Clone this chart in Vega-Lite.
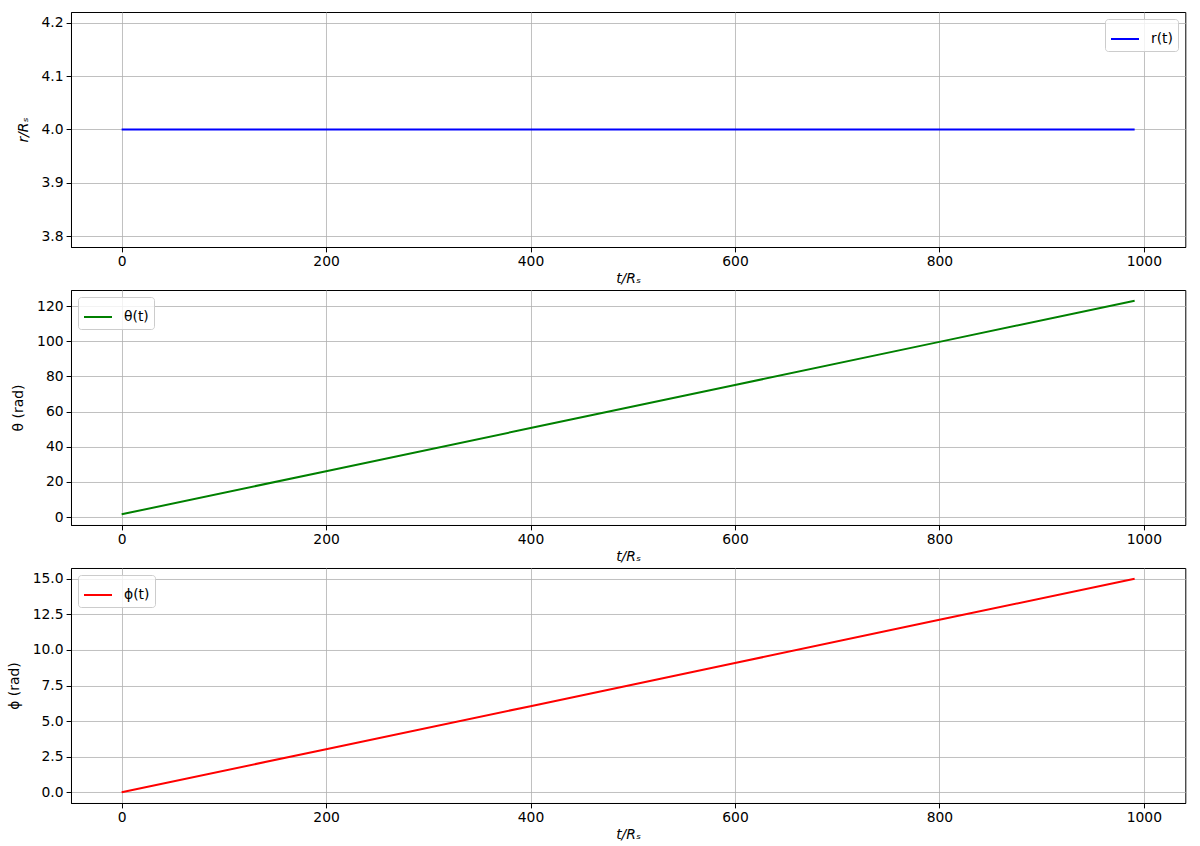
{
  "$schema": "https://vega.github.io/schema/vega-lite/v6.json",
  "padding": {"left": 6, "top": 11, "right": 5, "bottom": 5},
  "background": "white",
  "datasets": {
    "traj": [
      {"t": 0, "r": 4.0, "theta": 1.57, "phi": 0.0},
      {"t": 200, "r": 4.0, "theta": 26.1, "phi": 3.03},
      {"t": 400, "r": 4.0, "theta": 50.6, "phi": 6.05},
      {"t": 600, "r": 4.0, "theta": 75.1, "phi": 9.08},
      {"t": 800, "r": 4.0, "theta": 99.6, "phi": 12.11},
      {"t": 991, "r": 4.0, "theta": 123.0, "phi": 15.0}
    ]
  },
  "bounds": "flush",
  "spacing": 43,
  "resolve": {"scale": {"color": "independent"}, "legend": {"color": "independent"}},
  "vconcat": [
    {
      "width": 1114.3,
      "height": 235,
      "data": {"name": "traj"},
      "mark": {"type": "line", "strokeWidth": 2, "clip": true},
      "encoding": {
        "x": {"field": "t", "type": "quantitative", "scale": {"domain": [-49.55, 1040.55], "nice": false, "zero": false},
              "axis": {"values": [0, 200, 400, 600, 800, 1000], "format": "d", "title": "t/Rₛ", "titleFontStyle": "italic"}},
        "y": {"field": "r", "type": "quantitative", "scale": {"domain": [3.78, 4.22], "nice": false, "zero": false},
              "axis": {"values": [3.8, 3.9, 4.0, 4.1, 4.2], "format": ".1f", "title": "r/Rₛ", "titleFontStyle": "italic"}},
        "color": {"datum": "r(t)", "type": "nominal", "scale": {"domain": ["r(t)"], "range": ["#0000ff"]},
                  "legend": {"orient": "top-right", "title": null}}
      }
    },
    {
      "width": 1114.3,
      "height": 235,
      "data": {"name": "traj"},
      "mark": {"type": "line", "strokeWidth": 2, "clip": true},
      "encoding": {
        "x": {"field": "t", "type": "quantitative", "scale": {"domain": [-49.55, 1040.55], "nice": false, "zero": false},
              "axis": {"values": [0, 200, 400, 600, 800, 1000], "format": "d", "title": "t/Rₛ", "titleFontStyle": "italic"}},
        "y": {"field": "theta", "type": "quantitative", "scale": {"domain": [-4.5, 129.1], "nice": false, "zero": false},
              "axis": {"values": [0, 20, 40, 60, 80, 100, 120], "title": "θ (rad)"}},
        "color": {"datum": "θ(t)", "type": "nominal", "scale": {"domain": ["θ(t)"], "range": ["#008000"]},
                  "legend": {"orient": "top-left", "title": null}}
      }
    },
    {
      "width": 1114.3,
      "height": 235,
      "data": {"name": "traj"},
      "mark": {"type": "line", "strokeWidth": 2, "clip": true},
      "encoding": {
        "x": {"field": "t", "type": "quantitative", "scale": {"domain": [-49.55, 1040.55], "nice": false, "zero": false},
              "axis": {"values": [0, 200, 400, 600, 800, 1000], "format": "d", "title": "t/Rₛ", "titleFontStyle": "italic"}},
        "y": {"field": "phi", "type": "quantitative", "scale": {"domain": [-0.75, 15.75], "nice": false, "zero": false},
              "axis": {"values": [0, 2.5, 5, 7.5, 10, 12.5, 15], "format": ".1f", "title": "ϕ (rad)"}},
        "color": {"datum": "ϕ(t)", "type": "nominal", "scale": {"domain": ["ϕ(t)"], "range": ["#ff0000"]},
                  "legend": {"orient": "top-left", "title": null}}
      }
    }
  ],
  "config": {
    "font": "DejaVu Sans",
    "view": {"stroke": "black", "strokeWidth": 1},
    "axis": {
      "labelFont": "DejaVu Sans",
      "titleFont": "DejaVu Sans",
      "labelFontSize": 13.9,
      "titleFontSize": 13.9,
      "titleFontWeight": "normal",
      "labelColor": "black",
      "titleColor": "black",
      "domainColor": "black",
      "domainWidth": 1,
      "tickColor": "black",
      "tickSize": 4.9,
      "tickWidth": 1,
      "labelPadding": 3,
      "grid": true,
      "gridColor": "#b0b0b0",
      "gridWidth": 0.8,
      "labelFlush": false,
      "labelOverlap": false
    },
    "axisX": {"titlePadding": 3},
    "axisY": {"titlePadding": 11},
    "legend": {
      "labelFont": "DejaVu Sans",
      "labelFontSize": 13.9,
      "labelColor": "black",
      "symbolType": "stroke",
      "symbolSize": 784,
      "symbolStrokeWidth": 2,
      "labelOffset": 11,
      "padding": 5,
      "offset": 7,
      "fillColor": "rgba(255,255,255,0.8)",
      "strokeColor": "#cccccc",
      "cornerRadius": 3
    }
  }
}
